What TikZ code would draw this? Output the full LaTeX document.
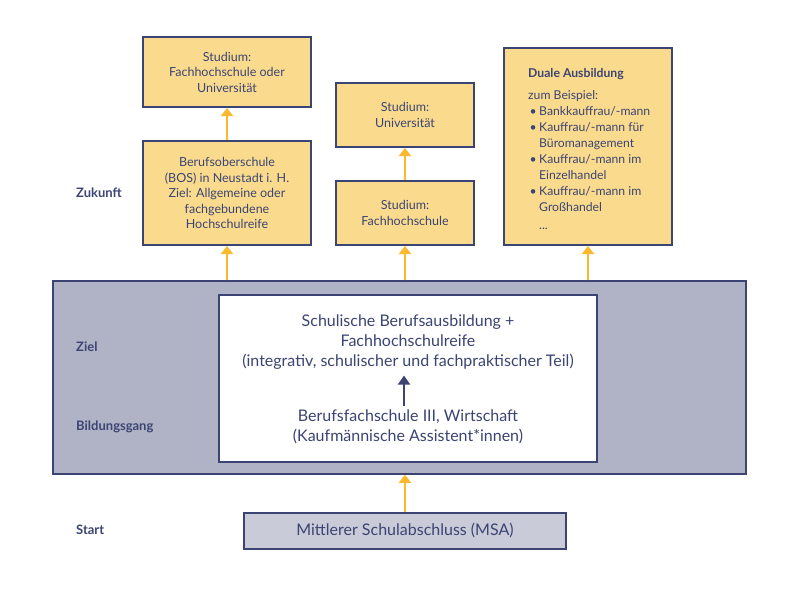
\documentclass[tikz,border=0pt]{standalone}
\usepackage{fontspec}
\setmainfont{Lato}
\usetikzlibrary{arrows.meta,calc}
\definecolor{navy}{HTML}{3B4472}
\definecolor{yel}{HTML}{FADB8E}
\definecolor{org}{HTML}{FBB930}
\definecolor{greyf}{HTML}{B0B3C6}
\definecolor{msaf}{HTML}{C9CBD9}
\newcommand\bult{\makebox[11pt][l]{\hspace{1.5pt}\textbullet}}
\begin{document}
\begin{tikzpicture}[x=1pt,y=-1pt,
  ybox/.style={draw=navy, line width=2pt, fill=yel, align=center, text=navy,
    font=\fontsize{12.5}{15.5}\selectfont, inner sep=0pt},
  arr/.style={draw=org, line width=2pt, -{Triangle[width=12pt,length=8pt]}},
  narr/.style={draw=navy, line width=2pt, -{Triangle[width=12pt,length=9pt]}},
  lbl/.style={anchor=west, text=navy, font=\fontsize{13}{15}\selectfont\bfseries, inner sep=0pt},
  big/.style={text=navy, align=center, font=\fontsize{16}{20}\selectfont, inner sep=0pt}]
\useasboundingbox[fill=white] (0,0) rectangle (800,592);
% future boxes
\node[ybox, minimum width=168, minimum height=70] (A) at (227,72) {Studium:\\Fachhochschule oder\\Universität};
\node[ybox, minimum width=168, minimum height=104] (B) at (227,193) {Berufsoberschule\\(BOS) in Neustadt i. H.\\Ziel: Allgemeine oder\\fachgebundene\\Hochschulreife};
\node[ybox, minimum width=138, minimum height=64] (C) at (405,115) {Studium:\\Universität};
\node[ybox, minimum width=138, minimum height=64] (D) at (405,213) {Studium:\\Fachhochschule};
\node[ybox, minimum width=168, minimum height=197] (E) at (588,146.5) {};
\node[anchor=north west, inner sep=0pt, text=navy, align=left,
      font=\fontsize{12.2}{16}\selectfont] (Etext) at (528,68.5)
 {\textbf{Duale Ausbildung}\\[6pt]
  zum Beispiel:\\
  \bult Bankkauffrau/-mann\\
  \bult Kauffrau/-mann für\\
  \hspace*{11pt}Büromanagement\\
  \bult Kauffrau/-mann im\\
  \hspace*{11pt}Einzelhandel\\
  \bult Kauffrau/-mann im\\
  \hspace*{11pt}Großhandel\\[2pt]
  \hspace*{11pt}...};
% big grey box
\node[draw=navy, line width=1.5pt, fill=greyf, minimum width=693, minimum height=193, inner sep=0pt] (G) at (399.5,377.5) {};
\node[draw=navy, line width=2pt, fill=white, minimum width=378, minimum height=167, inner sep=0pt] (W) at (408,378) {};
\node[big] (top) at (408,342) {Schulische Berufsausbildung +\\Fachhochschulreife\\(integrativ, schulischer und fachpraktischer Teil)};
\node[big] (bot) at (408,426.5) {Berufsfachschule III, Wirtschaft\\(Kaufmännische Assistent*innen)};
\draw[narr] ($(bot.north)+(-4,-3)$) -- ($(top.south)+(-4,6)$);
% MSA
\node[draw=navy, line width=2pt, fill=msaf, minimum width=322, minimum height=36, inner sep=0pt, text=navy, font=\fontsize{16}{18}\selectfont] (M) at (405,530.5) {Mittlerer Schulabschluss (MSA)};
% labels
\node[lbl] (lz) at (76,193) {Zukunft};
\node[lbl] (lziel) at (76,347) {Ziel};
\node[lbl] (lb) at (76,427) {Bildungsgang};
\node[lbl] (ls) at (76,530) {Start};
% arrows
\draw[arr] (M.north) -- (M.north |- G.south);
\draw[arr] (G.north -| B.south) -- (B.south);
\draw[arr] (G.north -| D.south) -- (D.south);
\draw[arr] (G.north -| E.south) -- (E.south);
\draw[arr] (B.north) -- (A.south);
\draw[arr] (D.north) -- (C.south);
\end{tikzpicture}
\end{document}
